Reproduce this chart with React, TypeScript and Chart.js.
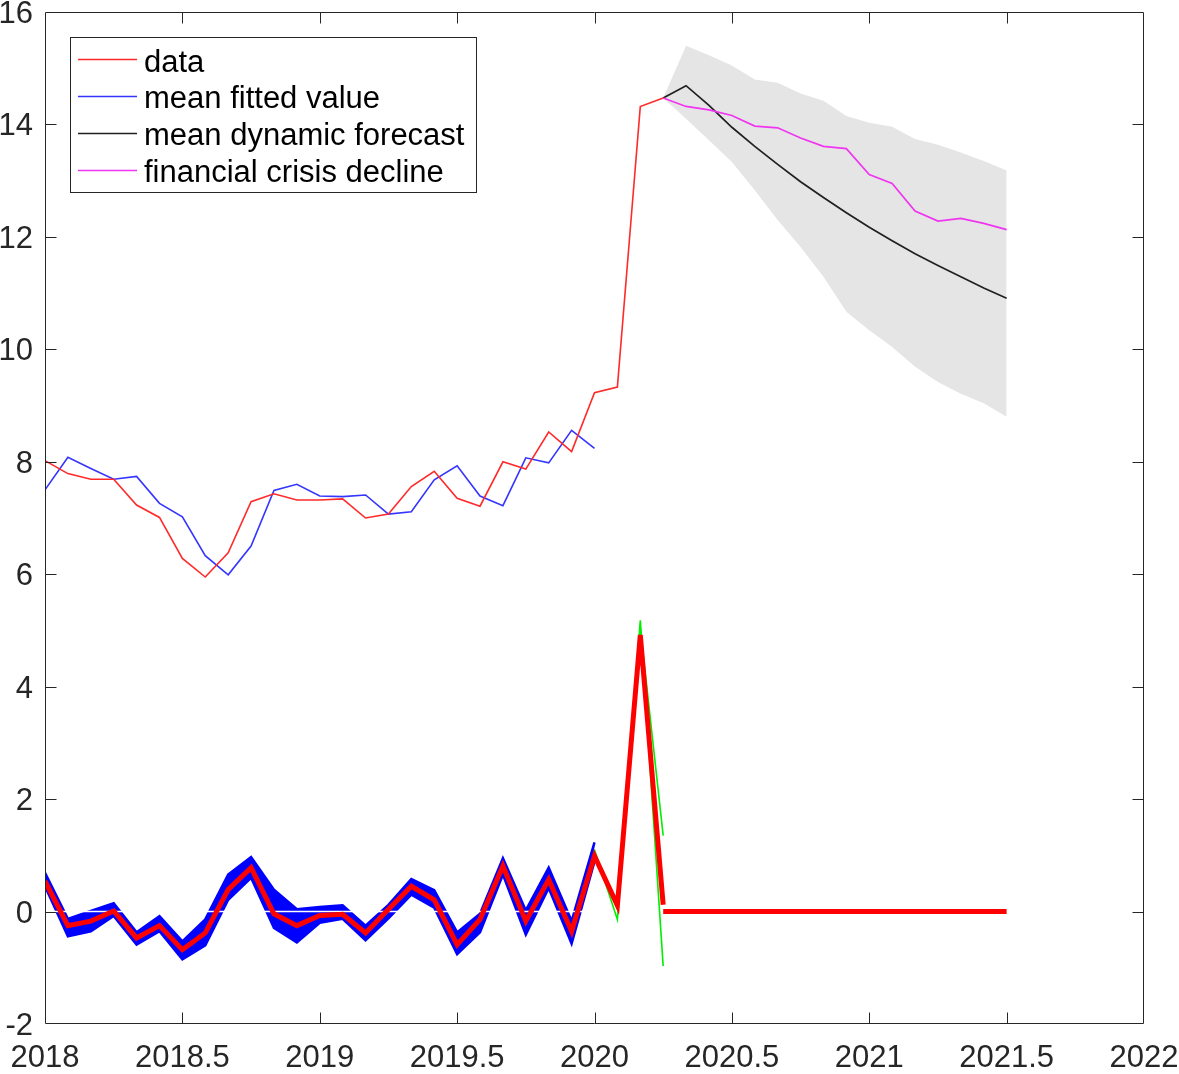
import React, { useEffect, useRef } from "react";
import { Chart, registerables } from "chart.js";

Chart.register(...registerables);

// ---- time axes (decimal years, monthly) ----
const histTimes = [2018, 2018.0833, 2018.1667, 2018.25, 2018.3333, 2018.4167, 2018.5, 2018.5833, 2018.6667, 2018.75, 2018.8333, 2018.9167, 2019, 2019.0833, 2019.1667, 2019.25, 2019.3333, 2019.4167, 2019.5, 2019.5833, 2019.6667, 2019.75, 2019.8333, 2019.9167, 2020, 2020.0833, 2020.1667, 2020.25];
const fittedTimes = histTimes.slice(0, 25);
const fcstTimes = [2020.25, 2020.3333, 2020.4167, 2020.5, 2020.5833, 2020.6667, 2020.75, 2020.8333, 2020.9167, 2021, 2021.0833, 2021.1667, 2021.25, 2021.3333, 2021.4167, 2021.5];
const greenTimes = [2020, 2020.0833, 2020.1667, 2020.25];

// ---- level series ----
const dataValues = [8.02, 7.79, 7.69, 7.69, 7.23, 7.01, 6.28, 5.95, 6.38, 7.29, 7.43, 7.32, 7.32, 7.34, 7.0, 7.07, 7.56, 7.83, 7.35, 7.21, 8.0, 7.87, 8.53, 8.18, 9.23, 9.33, 14.32, 14.47];
const fittedValues = [7.5, 8.08, 7.88, 7.69, 7.74, 7.26, 7.02, 6.33, 5.99, 6.5, 7.49, 7.6, 7.39, 7.38, 7.41, 7.07, 7.11, 7.68, 7.93, 7.39, 7.22, 8.07, 7.98, 8.56, 8.24];
const forecastValues = [14.47, 14.69, 14.34, 13.95, 13.61, 13.29, 12.98, 12.7, 12.43, 12.17, 11.93, 11.7, 11.49, 11.29, 11.09, 10.91];
const crisisValues = [14.47, 14.32, 14.26, 14.16, 13.97, 13.94, 13.76, 13.61, 13.57, 13.11, 12.95, 12.46, 12.28, 12.33, 12.24, 12.13];
const bandUpper = [14.47, 15.4, 15.23, 15.05, 14.8, 14.74, 14.55, 14.42, 14.15, 14.03, 13.96, 13.74, 13.64, 13.5, 13.35, 13.18];
const bandLower = [14.47, 14.1, 13.72, 13.33, 12.83, 12.3, 11.82, 11.29, 10.67, 10.34, 10.04, 9.69, 9.42, 9.21, 9.04, 8.8];

// ---- change series (lower part) ----
const changeValues = [0.54, -0.25, -0.17, 0.01, -0.47, -0.25, -0.68, -0.38, 0.39, 0.78, -0.04, -0.25, -0.07, -0.05, -0.38, 0.04, 0.45, 0.21, -0.59, -0.14, 0.81, -0.17, 0.57, -0.35, 0.99, 0.11, 4.92, 0.12];
const changeForecast = [0, 0, 0, 0, 0, 0, 0, 0, 0, 0, 0, 0, 0, 0, 0, 0];
const fitBandUpper = [0.69, -0.13, 0.01, 0.15, -0.37, -0.08, -0.53, -0.14, 0.66, 0.97, 0.39, 0.04, 0.08, 0.11, -0.25, 0.12, 0.58, 0.38, -0.37, -0.04, 0.95, 0.02, 0.78, -0.17, 1.23];
const fitBandLower = [0.45, -0.44, -0.35, -0.08, -0.59, -0.35, -0.85, -0.6, 0.21, 0.6, -0.29, -0.55, -0.2, -0.13, -0.51, -0.12, 0.3, 0.07, -0.76, -0.37, 0.66, -0.41, 0.42, -0.57, 0.89];
const greenA = [1.1, -0.14, 5.18, -0.97];
const greenB = [0.95, 0.05, 5.05, 1.35];
const zeroLine = [0, 0, 0, 0, 0, 0, 0, 0, 0, 0, 0, 0, 0, 0, 0, 0, 0, 0, 0, 0, 0, 0, 0, 0, 0];

// ---- ticks ----
const xTicks = [2018, 2018.5, 2019, 2019.5, 2020, 2020.5, 2021, 2021.5, 2022];
const xTickLabels = ["2018", "2018.5", "2019", "2019.5", "2020", "2020.5", "2021", "2021.5", "2022"];
const yTicks = [-2, 0, 2, 4, 6, 8, 10, 12, 14, 16];
const yTickLabels = ["-2", "0", "2", "4", "6", "8", "10", "12", "14", "16"];

const legendItems = [
  { label: "data", color: "#ff2a2a" },
  { label: "mean fitted value", color: "#3535ff" },
  { label: "mean dynamic forecast", color: "#202020" },
  { label: "financial crisis decline", color: "#f035f0" },
];

const FONT = "'Liberation Sans', Arial, Helvetica, sans-serif";
const AXIS_COLOR = "#262626";

const pts = (xs: number[], ys: number[]) => xs.map((x, i) => ({ x, y: ys[i] }));

const framePlugin = {
  id: "frameTicks",
  afterDatasetsDraw(chart: any) {
    const { ctx, chartArea, scales } = chart;
    const { left, right, top, bottom } = chartArea;
    const xs = scales.x;
    const ys = scales.y;
    ctx.save();
    ctx.strokeStyle = AXIS_COLOR;
    ctx.lineWidth = 1;
    ctx.beginPath();
    const L = Math.round(left) + 0.5;
    const R = Math.round(right) - 0.5;
    const T = Math.round(top) + 0.5;
    const B = Math.round(bottom) - 0.5;
    ctx.rect(L, T, R - L, B - T);
    const tl = 11;
    xTicks.forEach((v) => {
      const px = Math.round(xs.getPixelForValue(v)) + 0.5;
      if (px <= L + 1 || px >= R - 1) return;
      ctx.moveTo(px, B);
      ctx.lineTo(px, B - tl);
      ctx.moveTo(px, T);
      ctx.lineTo(px, T + tl);
    });
    yTicks.forEach((v) => {
      const py = Math.round(ys.getPixelForValue(v)) + 0.5;
      if (py <= T + 1 || py >= B - 1) return;
      ctx.moveTo(L, py);
      ctx.lineTo(L + tl, py);
      ctx.moveTo(R, py);
      ctx.lineTo(R - tl, py);
    });
    ctx.stroke();

    // tick labels
    ctx.fillStyle = AXIS_COLOR;
    ctx.font = `31px ${FONT}`;
    ctx.textBaseline = "alphabetic";
    ctx.textAlign = "center";
    xTicks.forEach((v, i) => {
      ctx.fillText(xTickLabels[i], xs.getPixelForValue(v), bottom + 43);
    });
    ctx.textAlign = "right";
    yTicks.forEach((v, i) => {
      ctx.fillText(yTickLabels[i], left - 12, ys.getPixelForValue(v) + 11);
    });

    // legend
    const bx = 70.5, by = 37.5, bw = 406, bh = 155;
    ctx.fillStyle = "#ffffff";
    ctx.fillRect(bx, by, bw, bh);
    ctx.strokeStyle = AXIS_COLOR;
    ctx.lineWidth = 1;
    ctx.strokeRect(bx, by, bw, bh);
    ctx.font = `31px ${FONT}`;
    ctx.textBaseline = "alphabetic";
    ctx.textAlign = "left";
    legendItems.forEach((it, i) => {
      const base = 71.7 + i * 36.7;
      const ly = Math.round(base - 12.3) + 0.5;
      ctx.strokeStyle = it.color;
      ctx.lineWidth = 1.3;
      ctx.beginPath();
      ctx.moveTo(78, ly);
      ctx.lineTo(137, ly);
      ctx.stroke();
      ctx.fillStyle = "#000000";
      ctx.fillText(it.label, 144, base);
    });
    ctx.restore();
  },
};

export default function App() {
  const ref = useRef<HTMLCanvasElement | null>(null);

  useEffect(() => {
    if (!ref.current) return;
    const line = (data: any, color: string, width: number, order: number, extra: any = {}) => ({
      data,
      borderColor: color,
      backgroundColor: color,
      borderWidth: width,
      pointRadius: 0,
      tension: 0,
      fill: false,
      order,
      ...extra,
    });

    const chart = new Chart(ref.current, {
      type: "line",
      data: {
        datasets: [
          // upper panel
          line(pts(fcstTimes, bandUpper), "rgba(0,0,0,0)", 0, 90, { label: "band upper" }),
          line(pts(fcstTimes, bandLower), "rgba(0,0,0,0)", 0, 89, {
            label: "band lower",
            fill: "-1",
            backgroundColor: "#e5e5e5",
          }),
          line(pts(histTimes, dataValues), "#ff2a2a", 1.6, 20, { label: "data" }),
          line(pts(fittedTimes, fittedValues), "#3535ff", 1.6, 21, { label: "mean fitted value" }),
          line(pts(fcstTimes, forecastValues), "#202020", 1.7, 19, { label: "mean dynamic forecast" }),
          line(pts(fcstTimes, crisisValues), "#f035f0", 1.7, 18, { label: "financial crisis decline" }),
          // lower panel
          line(pts(fittedTimes, fitBandUpper), "#0000ff", 2.5, 80, { label: "fit band upper" }),
          line(pts(fittedTimes, fitBandLower), "#0000ff", 2.5, 79, {
            label: "fit band lower",
            fill: "-1",
            backgroundColor: "#0000ff",
          }),
          line(pts(fittedTimes, zeroLine), "#ffffff", 1.5, 40, { label: "zero" }),
          line(pts(greenTimes, greenA), "#00ee00", 1.6, 35, { label: "sim A" }),
          line(pts(greenTimes, greenB), "#00ee00", 1.6, 34, { label: "sim B" }),
          line(pts(histTimes, changeValues), "#ff0000", 5, 10, { label: "change" }),
          line(pts(fcstTimes, changeForecast), "#ff0000", 5, 9, { label: "change forecast" }),
        ],
      },
      options: {
        animation: false,
        responsive: false,
        maintainAspectRatio: false,
        layout: { padding: { top: 12, right: 35, left: 0, bottom: 0 } },
        plugins: {
          legend: { display: false },
          tooltip: { enabled: false },
        },
        scales: {
          x: {
            type: "linear",
            min: 2018,
            max: 2022,
            grid: { display: false, drawTicks: false },
            border: { display: false },
            ticks: { display: false },
            afterFit: (axis: any) => {
              axis.height = 50;
            },
          },
          y: {
            type: "linear",
            min: -2,
            max: 16,
            grid: { display: false, drawTicks: false },
            border: { display: false },
            ticks: { display: false },
            afterFit: (axis: any) => {
              axis.width = 45;
            },
          },
        },
      },
      plugins: [framePlugin],
    } as any);
    return () => chart.destroy();
  }, []);

  return (
    <div style={{ position: "absolute", left: 0, top: 0, width: 1179, height: 1074, background: "#fff" }}>
      <canvas ref={ref} width={1179} height={1074} style={{ width: 1179, height: 1074, display: "block" }} />
    </div>
  );
}
